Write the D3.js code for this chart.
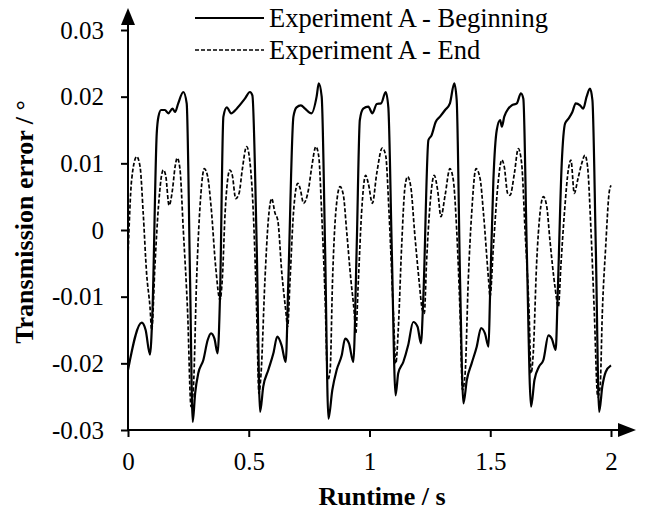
<!DOCTYPE html>
<html>
<head>
<meta charset="utf-8">
<script src="https://cdn.jsdelivr.net/npm/d3@7"></script>
<style>
  body { margin: 0; background: #fff; }
  svg { display: block; }
</style>
</head>
<body>
<div id="chart"></div>
<script>
// runtime (s) and transmission error (deg)
var begT = [0.000,0.057,0.073,0.091,0.101,0.119,0.126,0.137,0.153,0.167,0.184,0.195,0.208,0.229,0.243,0.257,0.268,0.278,0.291,0.312,0.330,0.344,0.358,0.371,0.381,0.395,0.409,0.427,0.450,0.484,0.505,0.515,0.533,0.547,0.560,0.581,0.602,0.618,0.636,0.653,0.664,0.685,0.698,0.716,0.733,0.760,0.781,0.790,0.802,0.816,0.830,0.846,0.864,0.885,0.899,0.915,0.933,0.947,0.960,0.974,0.995,1.012,1.030,1.048,1.067,1.078,1.092,1.108,1.119,1.140,1.160,1.181,1.199,1.213,1.223,1.244,1.257,1.274,1.292,1.313,1.333,1.351,1.361,1.375,1.389,1.403,1.423,1.444,1.462,1.478,1.493,1.499,1.513,1.527,1.541,1.548,1.558,1.575,1.589,1.610,1.627,1.637,1.651,1.669,1.683,1.702,1.720,1.741,1.755,1.771,1.779,1.796,1.810,1.824,1.840,1.854,1.872,1.885,1.899,1.913,1.923,1.937,1.951,1.964,1.978,2.000];
var begV = [-0.0210,-0.0139,-0.0150,-0.0187,-0.0125,0.0145,0.0170,0.0180,0.0180,0.0175,0.0182,0.0177,0.0190,0.0207,0.0190,-0.0075,-0.0288,-0.0245,-0.0215,-0.0195,-0.0165,-0.0155,-0.0163,-0.0185,-0.0100,0.0170,0.0184,0.0175,0.0182,0.0197,0.0207,0.0202,-0.0025,-0.0273,-0.0235,-0.0210,-0.0185,-0.0160,-0.0173,-0.0198,-0.0075,0.0170,0.0184,0.0187,0.0182,0.0175,0.0200,0.0220,0.0200,-0.0025,-0.0283,-0.0240,-0.0210,-0.0188,-0.0163,-0.0170,-0.0198,-0.0025,0.0165,0.0182,0.0185,0.0175,0.0189,0.0190,0.0207,0.0184,-0.0025,-0.0248,-0.0215,-0.0198,-0.0173,-0.0138,-0.0145,-0.0170,-0.0100,0.0135,0.0142,0.0162,0.0170,0.0180,0.0190,0.0220,0.0195,-0.0075,-0.0260,-0.0225,-0.0200,-0.0175,-0.0147,-0.0155,-0.0175,-0.0100,0.0075,0.0150,0.0165,0.0155,0.0170,0.0182,0.0187,0.0190,0.0205,0.0197,-0.0025,-0.0265,-0.0225,-0.0205,-0.0195,-0.0158,-0.0163,-0.0180,-0.0100,0.0100,0.0160,0.0167,0.0177,0.0190,0.0187,0.0182,0.0200,0.0212,0.0195,-0.0025,-0.0273,-0.0235,-0.0213,-0.0203];

var endT = [0.000,0.015,0.036,0.050,0.063,0.077,0.091,0.098,0.112,0.126,0.146,0.156,0.170,0.184,0.195,0.204,0.215,0.229,0.247,0.261,0.271,0.284,0.302,0.316,0.330,0.344,0.363,0.381,0.391,0.402,0.422,0.432,0.446,0.460,0.473,0.491,0.505,0.519,0.533,0.542,0.551,0.567,0.581,0.595,0.609,0.620,0.637,0.653,0.661,0.671,0.685,0.703,0.713,0.727,0.747,0.761,0.778,0.790,0.802,0.816,0.827,0.837,0.847,0.860,0.878,0.892,0.905,0.923,0.937,0.943,0.954,0.967,0.984,0.995,1.012,1.030,1.053,1.067,1.081,1.099,1.109,1.119,1.133,1.147,1.158,1.172,1.186,1.205,1.219,1.227,1.236,1.250,1.268,1.282,1.296,1.313,1.333,1.347,1.361,1.375,1.385,1.396,1.409,1.423,1.441,1.458,1.472,1.493,1.499,1.513,1.531,1.548,1.558,1.572,1.582,1.600,1.616,1.630,1.644,1.661,1.669,1.678,1.692,1.706,1.720,1.734,1.747,1.768,1.782,1.793,1.807,1.824,1.834,1.848,1.862,1.879,1.892,1.903,1.917,1.931,1.945,1.955,1.964,1.978,1.992,2.000];
var endV = [-0.0040,0.0075,0.0110,0.0095,0.0025,-0.0065,-0.0115,-0.0150,-0.0050,0.0035,0.0090,0.0082,0.0037,0.0060,0.0095,0.0108,0.0092,0.0000,-0.0125,-0.0265,-0.0235,-0.0075,0.0055,0.0092,0.0080,0.0035,-0.0055,-0.0105,-0.0070,0.0025,0.0090,0.0082,0.0047,0.0055,0.0090,0.0125,0.0102,0.0025,-0.0125,-0.0245,-0.0215,-0.0075,0.0015,0.0047,0.0025,0.0015,-0.0065,-0.0120,-0.0145,-0.0075,0.0025,0.0070,0.0062,0.0040,0.0060,0.0095,0.0125,0.0110,0.0025,-0.0100,-0.0225,-0.0210,-0.0075,0.0025,0.0065,0.0052,0.0000,-0.0075,-0.0125,-0.0155,-0.0075,0.0025,0.0082,0.0070,0.0040,0.0085,0.0123,0.0112,0.0025,-0.0125,-0.0200,-0.0150,-0.0025,0.0065,0.0080,0.0062,0.0000,-0.0075,-0.0120,-0.0125,-0.0050,0.0035,0.0082,0.0060,0.0020,0.0052,0.0092,0.0075,0.0000,-0.0125,-0.0240,-0.0215,-0.0075,0.0025,0.0092,0.0077,0.0025,-0.0075,-0.0100,-0.0025,0.0065,0.0105,0.0095,0.0055,0.0052,0.0085,0.0122,0.0100,0.0000,-0.0125,-0.0215,-0.0185,-0.0050,0.0025,0.0050,0.0035,-0.0015,-0.0085,-0.0115,-0.0050,0.0025,0.0092,0.0105,0.0055,0.0075,0.0100,0.0112,0.0095,0.0000,-0.0125,-0.0250,-0.0235,-0.0125,-0.0025,0.0055,0.0067];

var xTicks = [0, 0.5, 1, 1.5, 2];
var yTicks = [-0.03, -0.02, -0.01, 0, 0.01, 0.02, 0.03];
var seriesNames = ["Experiment A - Beginning", "Experiment A - End"];

var width = 652, height = 514;
var font = "'Liberation Serif', 'Times New Roman', serif";

var svg = d3.select("#chart").append("svg")
	.attr("width", width)
	.attr("height", height);

var x = d3.scaleLinear().domain([0, 2]).range([128, 611]);
var y = d3.scaleLinear().domain([-0.03, 0.03]).range([430, 30]);

// axes
var xAxis = svg.append("g")
	.attr("transform", "translate(0," + y(-0.03) + ")")
	.call(d3.axisBottom(x).tickValues(xTicks).tickSize(7).tickSizeOuter(0).tickPadding(15)
		.tickFormat(function(d){ return d.toString(); }));
var yAxis = svg.append("g")
	.attr("transform", "translate(" + x(0) + ",0)")
	.call(d3.axisLeft(y).tickValues(yTicks).tickSize(7).tickSizeOuter(0).tickPadding(17)
		.tickFormat(function(d){ return d == 0 ? "0" : d.toFixed(2); }));

[xAxis, yAxis].forEach(function(g){
	g.attr("font-family", font);
	g.select(".domain").remove();
	g.selectAll(".tick line").attr("stroke", "#000").attr("stroke-width", 2);
	g.selectAll(".tick text")
		.style("font-family", font)
		.style("font-size", "25px")
		.attr("fill", "#000");
});

// axis lines with arrow heads
svg.append("line")
	.attr("x1", x(0)).attr("y1", y(-0.03))
	.attr("x2", 620).attr("y2", y(-0.03))
	.attr("stroke", "#000").attr("stroke-width", 2);
svg.append("path")
	.attr("d", "M636," + y(-0.03) + "L618," + (y(-0.03) - 7) + "L618," + (y(-0.03) + 7) + "Z")
	.attr("fill", "#000");
svg.append("line")
	.attr("x1", x(0)).attr("y1", y(-0.03) + 1)
	.attr("x2", x(0)).attr("y2", 22)
	.attr("stroke", "#000").attr("stroke-width", 2);
svg.append("path")
	.attr("d", "M" + x(0) + ",8L" + (x(0) - 7) + ",25L" + (x(0) + 7) + ",25Z")
	.attr("fill", "#000");

// series
var line = d3.line()
	.x(function(d){ return x(d[0]); })
	.y(function(d){ return y(d[1]); })
	.curve(d3.curveMonotoneX);

var endData = endT.map(function(t, i){ return [t, endV[i]]; });
var begData = begT.map(function(t, i){ return [t, begV[i]]; });

svg.append("path")
	.datum(endData)
	.attr("d", line)
	.attr("fill", "none")
	.attr("stroke", "#000")
	.attr("stroke-width", 1.7)
	.attr("stroke-dasharray", "4,2");

svg.append("path")
	.datum(begData)
	.attr("d", line)
	.attr("fill", "none")
	.attr("stroke", "#000")
	.attr("stroke-width", 2.2);

// legend
var legend = svg.append("g");
legend.append("line")
	.attr("x1", 195).attr("x2", 264).attr("y1", 18).attr("y2", 18)
	.attr("stroke", "#000").attr("stroke-width", 1.8);
legend.append("line")
	.attr("x1", 195).attr("x2", 264).attr("y1", 50).attr("y2", 50)
	.attr("stroke", "#000").attr("stroke-width", 1.6)
	.attr("stroke-dasharray", "4,2");
legend.selectAll("text")
	.data(seriesNames)
	.enter().append("text")
	.attr("x", 269)
	.attr("y", function(d, i){ return 27 + i*32; })
	.style("font-family", font)
	.style("font-size", "26.5px")
	.attr("fill", "#000")
	.text(function(d){ return d; });

// axis titles
svg.append("text")
	.attr("text-anchor", "middle")
	.attr("x", 382)
	.attr("y", 505)
	.style("font-family", font)
	.style("font-size", "26px")
	.style("font-weight", "bold")
	.text("Runtime / s");

svg.append("text")
	.attr("text-anchor", "middle")
	.attr("transform", "translate(33,222) rotate(-90)")
	.style("font-family", font)
	.style("font-size", "26px")
	.style("font-weight", "bold")
	.text("Transmission error / °");
</script>
</body>
</html>
